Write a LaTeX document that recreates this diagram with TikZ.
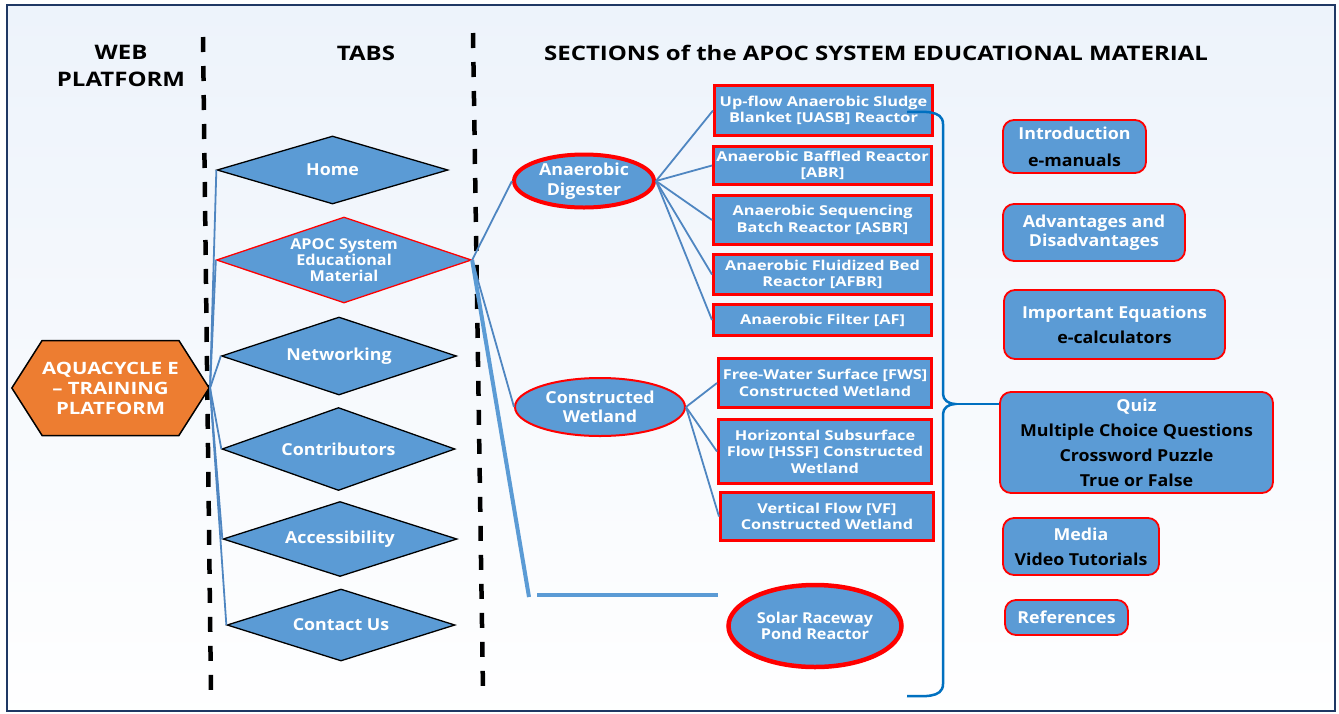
\documentclass[tikz,border=0pt]{standalone}
\usepackage{fontspec}
\setmainfont{Open Sans}
\newfontfamily\widefam{Open Sans}[FakeStretch=1.2]
\newfontfamily\midfam{Open Sans}[FakeStretch=1.08]
\usepackage{tikz}
\usetikzlibrary{shapes.geometric,shapes.symbols}
\definecolor{boxblue}{HTML}{5B9BD5}
\definecolor{linkblue}{HTML}{4F86C1}
\definecolor{braceblue}{HTML}{0070C0}
\definecolor{platorange}{HTML}{ED7D31}
\definecolor{framenavy}{HTML}{1F3864}
\definecolor{paperblue}{HTML}{EDF3FB}
\tikzset{
  head/.style={font=\widefam\bfseries\fontsize{20}{27}\selectfont,align=center,text=black},
  plat/.style={signal,signal to=east and west,signal pointer angle=115,draw=black,line width=1.5pt,fill=platorange,text=white,align=center,inner sep=0pt,font=\widefam\bfseries\fontsize{17}{20}\selectfont},
  tab/.style={diamond,draw=black,line width=1.3pt,fill=boxblue,text=white,align=center,inner sep=0pt,font=\midfam\bfseries\fontsize{16.5}{19}\selectfont},
  redtab/.style={tab,draw=red,font=\midfam\bfseries\fontsize{15}{16}\selectfont},
  sect/.style={ellipse,draw=red,line width=4pt,fill=boxblue,text=white,align=center,inner sep=0pt,font=\midfam\bfseries\fontsize{16.5}{20}\selectfont},
  unit/.style={rectangle,draw=red,line width=3pt,fill=boxblue,text=white,align=center,inner sep=0pt,font=\widefam\bfseries\fontsize{13.6}{16.5}\selectfont},
  part/.style={rectangle,rounded corners=11pt,draw=red,line width=1.8pt,fill=boxblue,text=white,align=center,inner sep=0pt,font=\midfam\bfseries\fontsize{16.5}{25}\selectfont},
  link/.style={draw=linkblue,line width=1.8pt},
  thicklink/.style={draw=boxblue,line width=4pt},
  divider/.style={draw=black,line width=4.5pt,dash pattern=on 15pt off 14pt},
  brace/.style={draw=braceblue,line width=2.5pt}
}
\begin{document}
\begin{tikzpicture}[x=1pt,y=-1pt]
  \useasboundingbox (0,0) rectangle (1339,713);
  \draw[framenavy,line width=2.5pt,top color=paperblue,bottom color=white!97!paperblue] (7,5) rectangle (1335,711);

  \node[head] (hweb) at (121,66) {WEB\\PLATFORM};
  \node[head] (htabs) at (366,53) {TABS};
  \node[head] (hsect) at (876,53) {SECTIONS of the APOC SYSTEM EDUCATIONAL MATERIAL};
  \draw[divider] (203,37) -- (211,693);
  \draw[divider] (473,33) -- (483,690);

  \node[plat,minimum width=195pt,minimum height=95pt] (platform) at (110.5,388) {AQUACYCLE E\\– TRAINING\\PLATFORM};

  \node[tab,aspect=3.4,minimum width=231pt,minimum height=68pt] (home) at (332.5,170) {Home};
  \node[redtab,aspect=2.97,minimum width=255pt,minimum height=86pt] (apoc) at (344,260) {APOC System\\Educational\\Material};
  \node[tab,aspect=3.0,minimum width=235pt,minimum height=78pt] (networking) at (339,356) {Networking};
  \node[tab,aspect=2.8,minimum width=233pt,minimum height=83pt] (contributors) at (338.5,449) {Contributors};
  \node[tab,aspect=3.1,minimum width=234pt,minimum height=75pt] (accessibility) at (340,539) {Accessibility};
  \node[tab,aspect=3.17,minimum width=228pt,minimum height=72pt] (contact) at (341,625) {Contact Us};

  \draw[link] (platform.east) to (home.west);
  \draw[link] (platform.east) to (apoc.west);
  \draw[link] (platform.east) to (networking.west);
  \draw[link] (platform.east) to (contributors.west);
  \draw[link] (platform.east) to (accessibility.west);
  \draw[link] (platform.east) to (contact.west);

  \node[sect,minimum width=140pt,minimum height=53pt] (digester) at (584,181) {Anaerobic\\Digester};
  \node[sect,line width=2pt,minimum width=170pt,minimum height=58pt,font=\midfam\bfseries\fontsize{16.5}{19}\selectfont] (wetland) at (600,407) {Constructed\\Wetland};
  \node[sect,line width=4.5pt,minimum width=173pt,minimum height=82pt,font=\midfam\bfseries\fontsize{15}{16.5}\selectfont] (solar) at (815,626) {Solar Raceway\\Pond Reactor};

  \coordinate (solarbend) at (529,597);
  \coordinate (solarfrom) at (537,595);
  \coordinate (solarto) at (718,595);
  \draw[link] (apoc.east) to (digester.west);
  \draw[link] (apoc.east) to (wetland.west);
  \draw[thicklink] (apoc.east) to (solarbend);
  \draw[thicklink] (solarfrom) to (solarto);

  \node[unit,minimum width=218pt,minimum height=50pt] (uasb) at (823.5,110.5) {Up-flow Anaerobic Sludge\\Blanket [UASB] Reactor};
  \node[unit,minimum width=218pt,minimum height=38pt] (abr) at (822.5,165.5) {Anaerobic Baffled Reactor\\{[ABR]}};
  \node[unit,minimum width=218pt,minimum height=49pt] (asbr) at (822.5,220) {Anaerobic Sequencing\\Batch Reactor [ASBR]};
  \node[unit,minimum width=218pt,minimum height=40pt] (afbr) at (822.5,274.5) {Anaerobic Fluidized Bed\\Reactor [AFBR]};
  \node[unit,minimum width=218pt,minimum height=31pt] (af) at (822.5,320) {Anaerobic Filter [AF]};
  \node[unit,minimum width=213pt,minimum height=49pt] (fws) at (825,383) {Free-Water Surface [FWS]\\Constructed Wetland};
  \node[unit,minimum width=213pt,minimum height=64pt] (hssf) at (825,451.5) {Horizontal Subsurface\\Flow [HSSF] Constructed\\Wetland};
  \node[unit,minimum width=213pt,minimum height=48pt] (vf) at (827,516.5) {Vertical Flow [VF]\\Constructed Wetland};

  \draw[link] (digester.east) to (uasb.west);
  \draw[link] (digester.east) to (abr.west);
  \draw[link] (digester.east) to (asbr.west);
  \draw[link] (digester.east) to (afbr.west);
  \draw[link] (digester.east) to (af.west);
  \draw[link] (wetland.east) to (fws.west);
  \draw[link] (wetland.east) to (hssf.west);
  \draw[link] (wetland.east) to (vf.west);

  \node[part,minimum width=143pt,minimum height=53pt,font=\midfam\bfseries\fontsize{16.5}{27}\selectfont] (intro) at (1074.5,146.5) {Introduction\\\textcolor{black}{e-manuals}};
  \node[part,minimum width=182pt,minimum height=57pt,font=\midfam\bfseries\fontsize{16.5}{19}\selectfont] (advantages) at (1094,232.5) {Advantages and\\Disadvantages};
  \node[part,minimum width=221pt,minimum height=69pt] (equations) at (1114.5,324.5) {Important Equations\\\textcolor{black}{e-calculators}};
  \node[part,minimum width=273pt,minimum height=101pt] (quiz) at (1136.5,442.5) {Quiz\\\textcolor{black}{Multiple Choice Questions}\\\textcolor{black}{Crossword Puzzle}\\\textcolor{black}{True or False}};
  \node[part,minimum width=156pt,minimum height=57pt] (media) at (1081,546.5) {Media\\\textcolor{black}{Video Tutorials}};
  \node[part,minimum width=123pt,minimum height=35pt] (references) at (1066.5,617.5) {References};

  \coordinate (bracetip) at (955,404);
  \draw[brace] (907,112) to[out=0,in=90] (943,124) -- (943,394) to[out=-90,in=180] (bracetip) to[out=180,in=90] (943,414) -- (943,684) to[out=-90,in=0] (907,696);
  \draw[brace] (bracetip) to (bracetip -| quiz.west);
\end{tikzpicture}
\end{document}
